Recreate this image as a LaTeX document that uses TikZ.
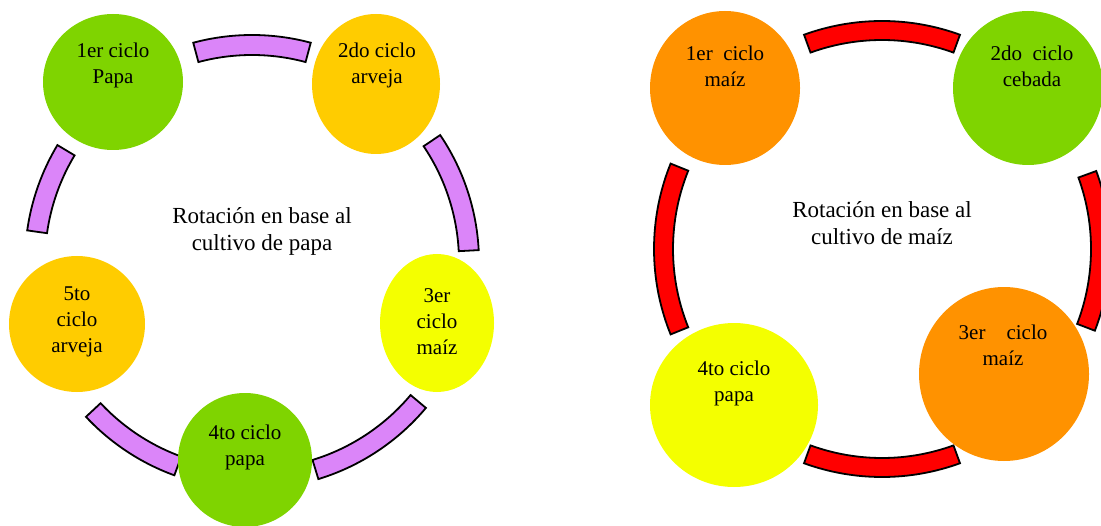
\documentclass[tikz,border=0pt]{standalone}
\usepackage{fontspec}
\setmainfont{Liberation Serif}
\usetikzlibrary{shapes.geometric}

\definecolor{cropgreen}{HTML}{7FD400}
\definecolor{peaorange}{HTML}{FFCC00}
\definecolor{cornyellow}{HTML}{F4FF00}
\definecolor{cornorange}{HTML}{FF9200}
\definecolor{bandviolet}{HTML}{DB85F9}
\definecolor{bandred}{HTML}{FF0000}

\tikzset{
  cropdisc/.style={ellipse, draw=none, inner sep=0pt},
  cyclelabel/.style={align=center, inner sep=0pt, font=\fontsize{10.5}{13}\selectfont},
  titlelabel/.style={align=center, inner sep=0pt, font=\fontsize{11.5}{13.5}\selectfont},
  band/.style={draw=black, line width=0.9pt, line join=miter}
}

\begin{document}
\begin{tikzpicture}[x=0.5pt,y=0.5pt]
    \useasboundingbox (0,0) rectangle (1101,525);

    % rotacion papa
    \coordinate (ringA) at (252,263);
    \foreach \a/\b in {75/105, 3/34, -73/-40, 223/250, 149/172}
        \draw[band,fill=bandviolet] ([shift={(\a:227)}]ringA) arc[start angle=\a,end angle=\b,radius=227]
            -- ([shift={(\b:207)}]ringA) arc[start angle=\b,end angle=\a,radius=207] -- cycle;

    \node[cropdisc,fill=cropgreen,minimum width=70pt,minimum height=68pt] (papaA) at (113,443) {};
    \node[cropdisc,fill=peaorange,minimum width=64pt,minimum height=70pt] (arvejaA) at (376,441) {};
    \node[cropdisc,fill=cornyellow,minimum width=57pt,minimum height=69pt] (maizA) at (437,202) {};
    \node[cropdisc,fill=cropgreen,minimum width=67pt,minimum height=67pt] (papaB) at (245,65) {};
    \node[cropdisc,fill=peaorange,minimum width=68pt,minimum height=68pt] (arvejaB) at (77,201) {};

    \node[cyclelabel] (papaAtxt) at (113,460) {1er ciclo\\Papa};
    \node[cyclelabel] (arvejaAtxt) at (377,460) {2do ciclo\\arveja};
    \node[cyclelabel] (maizAtxt) at (437,203) {3er\\ciclo\\maíz};
    \node[cyclelabel] (papaBtxt) at (245,78) {4to ciclo\\papa};
    \node[cyclelabel] (arvejaBtxt) at (77,203) {5to\\ciclo\\arveja};

    \node[titlelabel] (titleA) at (262,294) {Rotación en base al\\cultivo de papa};

    % rotacion maiz
    \coordinate (ringB) at (882,276);
    \foreach \a/\b in {70/110, -21/20, 250/290, 158/202}
        \draw[band,fill=bandred] ([shift={(\a:228)}]ringB) arc[start angle=\a,end angle=\b,radius=228]
            -- ([shift={(\b:209)}]ringB) arc[start angle=\b,end angle=\a,radius=209] -- cycle;

    \node[cropdisc,fill=cornorange,minimum width=75pt,minimum height=77pt] (maizC) at (725,437) {};
    \node[cropdisc,fill=cropgreen,minimum width=75pt,minimum height=77pt] (cebadaC) at (1028,437) {};
    \node[cropdisc,fill=cornorange,minimum width=85pt,minimum height=87pt] (maizD) at (1004,151) {};
    \node[cropdisc,fill=cornyellow,minimum width=84pt,minimum height=82pt] (papaC) at (734,120) {};

    \node[cyclelabel] (maizCtxt) at (725,459) {1er\ \ ciclo\\maíz};
    \node[cyclelabel] (cebadaCtxt) at (1032,459) {2do\ \ ciclo\\cebada};
    \node[cyclelabel] (maizDtxt) at (1003,180) {3er\quad ciclo\\maíz};
    \node[cyclelabel] (papaCtxt) at (734,142) {4to ciclo\\papa};

    \node[titlelabel] (titleB) at (882,302) {Rotación en base al\\cultivo de maíz};
\end{tikzpicture}
\end{document}
